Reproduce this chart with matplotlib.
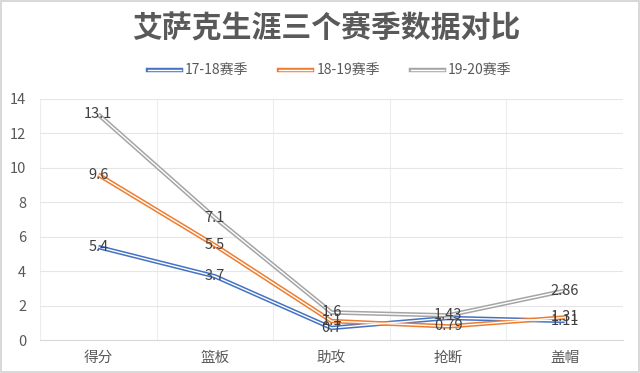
"""Isaac three-season stat comparison, double-line chart."""

import matplotlib.pyplot as plt
from matplotlib.lines import Line2D

plt.rcParams["font.family"] = ["Noto Sans CJK SC", "DejaVu Sans"]

categories = ["得分", "篮板", "助攻", "抢断", "盖帽"]
season_names = ["17-18赛季", "18-19赛季", "19-20赛季"]
s1718 = [5.4, 3.7, 0.7, 1.28, 1.11]
s1819 = [9.6, 5.5, 1.1, 0.79, 1.31]
s1920 = [13.1, 7.1, 1.6, 1.43, 2.86]
label_text = [
    ["5.4", "3.7", "0.7", "", "1.11"],
    ["9.6", "5.5", "1.1", "0.79", "1.31"],
    ["13.1", "7.1", "1.6", "1.43", "2.86"],
]
colors = ["#4472C4", "#ED7D31", "#A5A5A5"]
yticks = [0, 2, 4, 6, 8, 10, 12, 14]


def main() -> None:
    fig = plt.figure(figsize=(6.4, 3.73), dpi=100)
    fig.patch.set_edgecolor("#D9D9D9")
    fig.patch.set_linewidth(1.5)
    ax = fig.add_axes([40 / 640, 1 - 340 / 373, 583 / 640, 241 / 373])

    x = list(range(len(categories)))
    series = [s1718, s1819, s1920]
    for vals, col in zip(series, colors):
        ax.plot(x, vals, color=col, linewidth=3.2, solid_capstyle="butt", zorder=3)
        ax.plot(x, vals, color="white", linewidth=1.0, solid_capstyle="butt", zorder=4)
    for vals, labels in zip(series, label_text):
        for xi, v, t in zip(x, vals, labels):
            if t:
                ax.text(xi, v, t, ha="center", va="center", fontsize=10.5,
                        color="#404040", zorder=5)

    ax.set_xlim(-0.5, len(categories) - 0.5)
    ax.set_ylim(0, 14)
    ax.set_yticks(yticks)
    ax.set_xticks(x)
    ax.set_xticklabels(categories)
    ax.set_xticks([i - 0.5 for i in range(len(categories) + 1)], minor=True)
    ax.grid(True, axis="y", color="#E6E6E6", linewidth=0.8)
    ax.grid(True, axis="x", which="minor", color="#EDEDED", linewidth=0.8)
    ax.set_axisbelow(True)
    for side in ["top", "right", "left"]:
        ax.spines[side].set_visible(False)
    ax.spines["bottom"].set_color("#D9D9D9")
    ax.tick_params(axis="both", which="both", length=0, colors="#595959", labelsize=10.5)
    ax.tick_params(axis="x", pad=8)
    ax.tick_params(axis="y", pad=10)

    fig.text(0.51, 0.925, "艾萨克生涯三个赛季数据对比", ha="center", va="center",
             fontsize=21.5, fontweight="bold", color="#595959")

    handles = []
    for col in colors:
        handles.append((Line2D([], [], color=col, linewidth=3.2),
                        Line2D([], [], color="white", linewidth=1.0)))
    fig.legend(handles, season_names, loc="center", bbox_to_anchor=(0.515, 0.81),
               ncol=3, frameon=False, fontsize=10, labelcolor="#595959",
               handlelength=2.4, handletextpad=0.3, columnspacing=2.2)

    fig.savefig("out.png")
    plt.close(fig)


if __name__ == "__main__":
    main()
